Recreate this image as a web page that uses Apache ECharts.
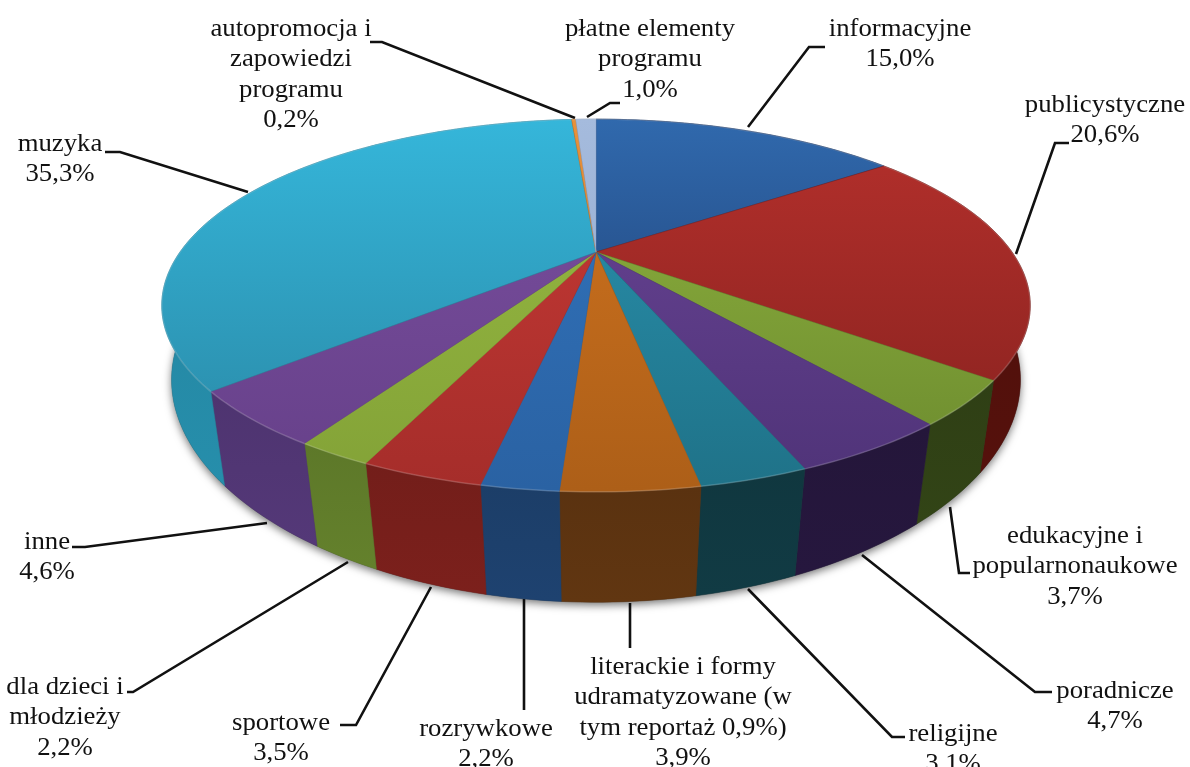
<!DOCTYPE html>
<html>
<head>
<meta charset="utf-8">
<style>
  html, body { margin: 0; padding: 0; background: #fff; }
  #chart { width: 1190px; height: 767px; }
</style>
</head>
<body>
<div id="chart"></div>
<script src="https://cdn.jsdelivr.net/npm/echarts@6/dist/echarts.min.js"></script>
<script>
var categories = [
  'informacyjne',
  'publicystyczne',
  'edukacyjne i\npopularnonaukowe',
  'poradnicze',
  'religijne',
  'literackie i formy\nudramatyzowane (w\ntym reportaż 0,9%)',
  'rozrywkowe',
  'sportowe',
  'dla dzieci i\nmłodzieży',
  'inne',
  'muzyka',
  'autopromocja i\nzapowiedzi\nprogramu',
  'płatne elementy\nprogramu'
]
var shares = [15.0, 20.6, 3.7, 4.7, 3.1, 3.9, 2.2, 3.5, 2.2, 4.6, 35.3, 0.2, 1.0]

// kolory: gora plastra (jasny, ciemny) i bok
var topLight = ['#3069ad', '#b5302c', '#90b33f', '#6a4596', '#2a93b0', '#d0731f', '#3274bd', '#c83a36', '#97ba42', '#7a4f9f', '#35b6da', '#e8913a', '#a5bbdd']
var topDark = ['#1b3464', '#85211e', '#6b8a2e', '#4f3378', '#1f7288', '#ad5f18', '#2a62a3', '#a52d2a', '#83a237', '#664089', '#2986a3', '#d07a28', '#8fa6cb']
var wallColor = ['#1b3558', '#4f100c', '#2f3f15', '#24163a', '#10373f', '#5a3210', '#1c3e68', '#731e1a', '#5d7829', '#4e3470', '#24849f', '#8a4a12', '#5a6f90']

// polozenie etykiet: srodek tekstu, gora pierwszej linii i linia odniesienia
var labelBoxes = [
  { x: 900, y: 14, line: [[748, 127], [809, 47], [825, 47]] },
  { x: 1105, y: 90, line: [[1016, 254], [1055, 143], [1069, 143]] },
  { x: 1075, y: 521, line: [[950, 507], [959, 573], [970, 573]] },
  { x: 1115, y: 676, line: [[862, 555], [1035, 692], [1052, 692]] },
  { x: 953, y: 719, line: [[748, 589], [892, 737], [905, 737]] },
  { x: 683, y: 652, line: [[630, 603], [630, 648]] },
  { x: 486, y: 714, line: [[524, 599], [524, 710]] },
  { x: 281, y: 708, line: [[431, 587], [356, 725], [340, 725]] },
  { x: 65, y: 672, line: [[348, 562], [133, 692], [127, 692]] },
  { x: 47, y: 527, line: [[267, 523], [85, 547], [72, 547]] },
  { x: 60, y: 129, line: [[248, 192], [120, 152], [105, 152]] },
  { x: 291, y: 14, line: [[575, 118], [382, 42], [370, 42]] },
  { x: 650, y: 14, line: [[587, 117], [610, 103], [620, 103]] }
]

// perspektywa dysku
var cx = 596
var cy = 252
var Rx = 416
var Ry = 171
var persp = 0.287
var bottomY = 324
var bottomScaleX = 0.985
var bottomTaper = 0.00015
var bottomScaleY = 1.16

var total = shares.reduce(function (a, b) { return a + b }, 0)
var starts = []
var sum = 0
shares.forEach(function (v) {
  starts.push(sum)
  sum += v
})

function toAngle (v) {
  return v / total * Math.PI * 2
}
function rimPoint (angle, bottom) {
  var u = Math.sin(angle)
  var v = Math.cos(angle)
  var d = 1 + persp * v
  var X = Rx * u / d
  var Y = Ry * v / d
  if (bottom) {
    return [cx + X * (bottomScaleX + Y * bottomTaper), bottomY - Y * bottomScaleY]
  }
  return [cx + X, cy - Y]
}
function rimArc (a0, a1, bottom) {
  var steps = Math.max(2, Math.ceil((a1 - a0) / 0.02))
  var pts = []
  for (var i = 0; i <= steps; i++) {
    pts.push(rimPoint(a0 + (a1 - a0) * i / steps, bottom))
  }
  return pts
}
function sliceRange (params, api) {
  var a0 = toAngle(starts[params.dataIndex])
  return [a0, a0 + toAngle(api.value(1))]
}

function renderBase (params, api) {
  return {
    type: 'polygon',
    shape: { points: rimArc(0, toAngle(api.value(1)), true) },
    style: { fill: '#555', shadowBlur: 9, shadowOffsetX: 0, shadowOffsetY: 3, shadowColor: 'rgba(0,0,0,0.55)' }
  }
}
function renderWall (params, api) {
  var r = sliceRange(params, api)
  var pts = rimArc(r[0], r[1], false).concat(rimArc(r[0], r[1], true).reverse())
  var c = wallColor[params.dataIndex]
  return {
    type: 'polygon',
    shape: { points: pts },
    style: {
      fill: new echarts.graphic.LinearGradient(0, 0, 0, 1, [
        { offset: 0, color: c },
        { offset: 1, color: echarts.color.lift(c, -0.08) }
      ]),
      stroke: c,
      lineWidth: 0.5
    }
  }
}
function renderTop (params, api) {
  var r = sliceRange(params, api)
  var arc = rimArc(r[0], r[1], false)
  var i = params.dataIndex
  return {
    type: 'group',
    children: [{
      type: 'polygon',
      shape: { points: [[cx, cy]].concat(arc) },
      style: {
        fill: new echarts.graphic.LinearGradient(0, 119, 0, 490, [
          { offset: 0, color: topLight[i] },
          { offset: 1, color: topDark[i] }
        ], true),
        stroke: topDark[i],
        lineWidth: 0.5
      }
    }, {
      type: 'polyline',
      shape: { points: arc },
      style: { fill: 'none', stroke: 'rgba(255,255,255,0.18)', lineWidth: 1.5 }
    }]
  }
}

var labelFont = '25px "Liberation Serif", "Times New Roman", serif'
var elements = []
categories.forEach(function (name, i) {
  var box = labelBoxes[i]
  elements.push({
    type: 'polyline',
    shape: { points: box.line },
    style: { fill: 'none', stroke: '#111', lineWidth: 2.6 }
  })
  elements.push({
    type: 'text',
    x: box.x,
    y: box.y,
    scaleX: 1.07,
    style: {
      text: name + '\n' + shares[i].toFixed(1).replace('.', ',') + '%',
      font: labelFont,
      fill: '#111',
      align: 'center',
      verticalAlign: 'top',
      lineHeight: 30.5
    }
  })
})

var seriesData = shares.map(function (v, i) {
  return [i, v]
})

var mychart = echarts.init(document.getElementById('chart'))
mychart.setOption({
  backgroundColor: '#fff',
  animation: false,
  graphic: { elements: elements },
  series: [
    { type: 'custom', coordinateSystem: 'none', z: 1, silent: true, renderItem: renderBase, data: [[0, total]] },
    { type: 'custom', coordinateSystem: 'none', z: 2, silent: true, renderItem: renderWall, data: seriesData },
    { type: 'custom', coordinateSystem: 'none', z: 3, silent: true, renderItem: renderTop, data: seriesData }
  ]
})
</script>
</body>
</html>
